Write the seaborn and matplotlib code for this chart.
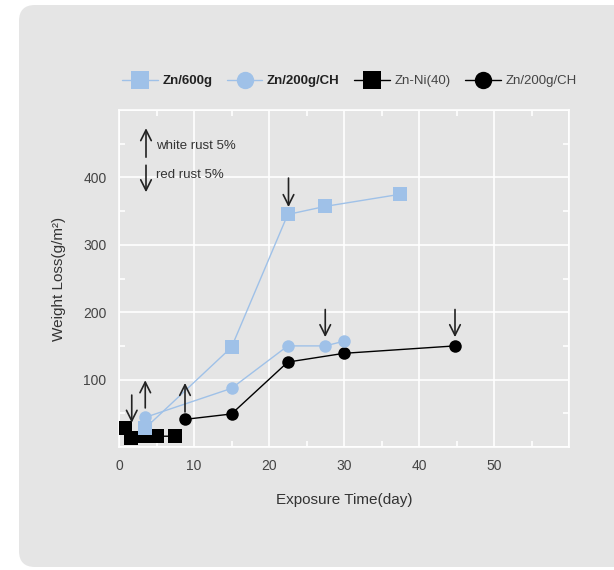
import matplotlib
matplotlib.use("Agg")
import matplotlib.pyplot as plt
import seaborn as sns
from matplotlib.patches import FancyBboxPatch
from matplotlib.lines import Line2D

# Data
zn600_days = [3.5, 15, 22.5, 27.5, 37.5]
zn600_loss = [28, 148, 345, 357, 375]

zn200ch_days = [3.5, 15, 22.5, 27.5, 30]
zn200ch_loss = [44, 87, 150, 150, 157]

znni_days = [0.8, 1.6, 3.5, 5, 7.5]
znni_loss = [28, 14, 16, 16, 16]

zn200ch_b_days = [8.8, 15, 22.5, 30, 44.8]
zn200ch_b_loss = [41, 49, 126, 139, 150]

# white rust (up) and red rust (down) marks: (day, tail, head)
white_rust = [(3.5, 58, 99), (8.8, 52, 95)]
red_rust = [(1.7, 77, 36), (22.6, 399, 356), (27.5, 204, 163), (44.8, 204, 163)]

BLUE = "#9fc1e8"
BG = "#e5e5e5"

sns.set_theme(style="darkgrid")
plt.rcParams['font.family'] = ['Liberation Sans', 'DejaVu Sans']

fig = plt.figure(figsize=(6.14, 5.7), dpi=100)
fig.patch.set_facecolor("white")
panel = FancyBboxPatch((0.19, 0.03), 6.3, 5.62,
                       boxstyle="round,pad=0,rounding_size=0.16",
                       transform=fig.dpi_scale_trans, facecolor=BG,
                       edgecolor="none", zorder=-10)
fig.add_artist(panel)

ax = fig.add_axes([119 / 614, 1 - 447 / 570, 450 / 614, 337 / 570])
ax.set_facecolor(BG)

sns.lineplot(x=znni_days, y=znni_loss, ax=ax, color="black", marker="s",
             markersize=9.5, markeredgewidth=0, linewidth=1, sort=False, zorder=3)
sns.lineplot(x=zn200ch_b_days, y=zn200ch_b_loss, ax=ax, color="black", marker="o",
             markersize=9, markeredgewidth=0, linewidth=1, sort=False, zorder=3)
sns.lineplot(x=zn600_days, y=zn600_loss, ax=ax, color=BLUE, marker="s",
             markersize=9.5, markeredgewidth=0, linewidth=1, sort=False, zorder=4)
sns.lineplot(x=zn200ch_days, y=zn200ch_loss, ax=ax, color=BLUE, marker="o",
             markersize=9, markeredgewidth=0, linewidth=1, sort=False, zorder=4)

arrow_kw = dict(arrowstyle="->", color="#222222", lw=1.2, shrinkA=0, shrinkB=0,
                mutation_scale=19)
for d, t, h in white_rust + red_rust:
    ax.annotate("", xy=(d, h), xytext=(d, t), arrowprops=arrow_kw, zorder=5)

# key for arrows
ax.annotate("", xy=(3.6, 473), xytext=(3.6, 430), arrowprops=arrow_kw)
ax.annotate("", xy=(3.6, 378), xytext=(3.6, 418), arrowprops=arrow_kw)
ax.text(4.9, 447, "white rust 5%", fontsize=9.5, color="#333333", va="center")
ax.text(4.9, 404, "red rust 5%", fontsize=9.5, color="#333333", va="center")

ax.set_xlim(0, 60)
ax.set_ylim(0, 500)
ax.set_xticks([0, 10, 20, 30, 40, 50, 60])
ax.set_xticklabels(["0", "10", "20", "30", "40", "50", ""])
ax.set_yticks([0, 100, 200, 300, 400, 500])
ax.set_yticklabels(["", "100", "200", "300", "400", ""])
ax.set_xticks([5, 15, 25, 35, 45, 55], minor=True)
ax.set_yticks([50, 150, 250, 350, 450], minor=True)
ax.grid(True, which="major", color="white", linewidth=1.2)
ax.grid(False, which="minor")
ax.tick_params(which="major", length=0, labelsize=10, labelcolor="#444444", pad=9)
ax.tick_params(which="minor", direction="in", length=4, width=1.2, color="white",
               top=True, right=True, bottom=True, left=True)
for s in ax.spines.values():
    s.set_visible(True)
    s.set_color("white")
    s.set_linewidth(1.2)

ax.set_xlabel("Exposure Time(day)", fontsize=11, color="#333333", labelpad=14)
ax.set_ylabel("Weight Loss(g/m²)", fontsize=11, color="#333333", labelpad=12)

handles = [
    Line2D([], [], color=BLUE, marker="s", markersize=12.5, markeredgewidth=0, lw=1),
    Line2D([], [], color=BLUE, marker="o", markersize=12.5, markeredgewidth=0, lw=1),
    Line2D([], [], color="black", marker="s", markersize=12.5, markeredgewidth=0, lw=1),
    Line2D([], [], color="black", marker="o", markersize=12.5, markeredgewidth=0, lw=1),
]
labels = ["Zn/600g", "Zn/200g/CH", "Zn-Ni(40)", "Zn/200g/CH"]
leg = ax.legend(handles, labels, loc="center left", bbox_to_anchor=(-0.005, 1.085),
                ncol=4, frameon=False, fontsize=9.5, handlelength=2.7,
                handletextpad=0.35, columnspacing=1.1, borderaxespad=0)
for i, txt in enumerate(leg.get_texts()):
    txt.set_color("#222222" if i < 2 else "#444444")
    if i < 2:
        txt.set_fontweight("bold")

fig.savefig("out.png", dpi=100)
